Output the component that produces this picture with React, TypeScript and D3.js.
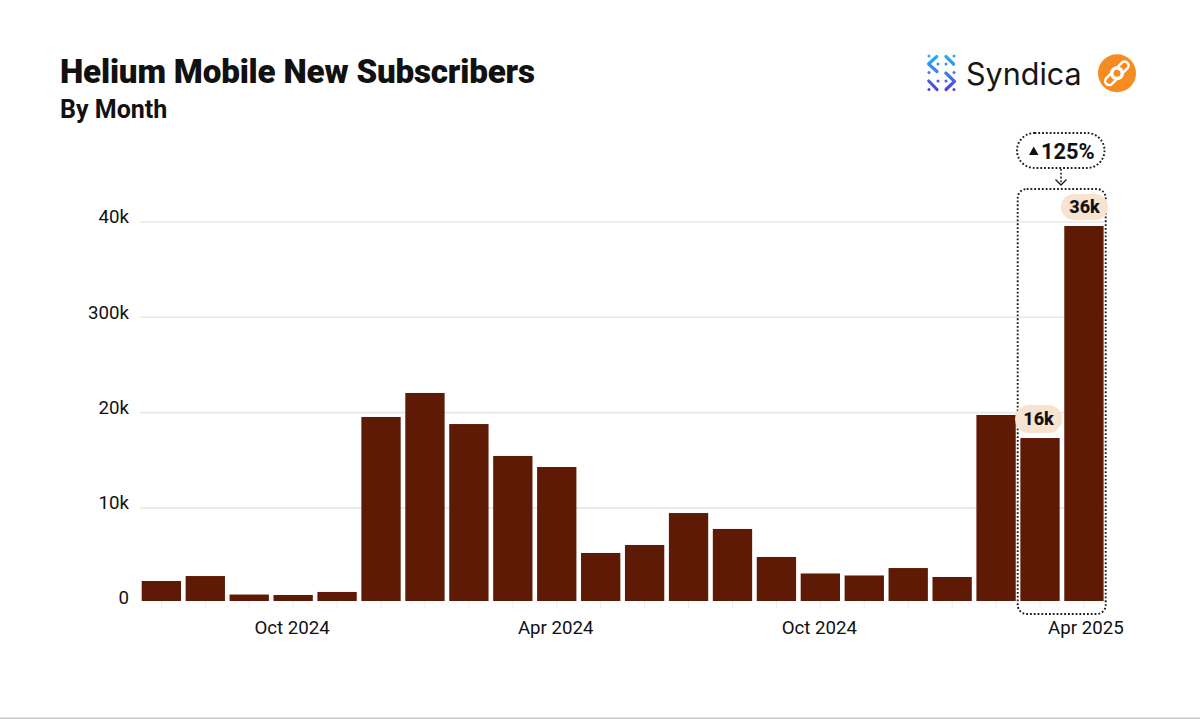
import React from "react";
import * as d3 from "d3";

const months = ["Jul 2024","Aug 2024","Sep 2024","Oct 2024","Nov 2024","Dec 2024","Jan 2024","Feb 2024","Mar 2024","Apr 2024","May 2024","Jun 2024","Jul 2024 ","Aug 2024 ","Sep 2024 ","Oct 2024 ","Nov 2024 ","Dec 2024 ","Jan 2025","Feb 2025","Mar 2025","Apr 2025"];
const subscribers = [2330,2850,910,860,1180,19540,22060,18800,15450,14290,5270,6110,9460,7790,4850,3120,2910,3690,2750,19750,17330,39580];
const yTicks = [0,10000,20000,30000,40000];
const yTickLabels = ["0","10k","20k","300k","40k"];
const xLabelled = ["Oct 2024","Apr 2024","Oct 2024 ","Apr 2025"];
const callouts = [{month:"Mar 2025",label:"16k"},{month:"Apr 2025",label:"36k"}];

const INK = "#111";
const BAR = "#5f1a05";
const FONT = "Roboto, sans-serif";
const BASE = 601;

export default function App() {
  const x = d3.scaleBand<string>().domain(months).range([141.7,1103.6]).paddingInner(0.105).paddingOuter(0);
  const y = d3.scaleLinear().domain([0,40000]).range([603.2,222]);
  const bw = x.bandwidth();
  const cx = (m:string)=> (x(m) as number)+bw/2;
  const dots = "1.8 2";
  const grad = "syn";
  const logoDots = [[929,56],[954,56],[938,64],[946,64],[929,72.5],[954,72.5],[938,81],[946,81],[929,89.5],[954,89.5]];
  return (
    <svg width={1200} height={719} viewBox="0 0 1200 719" style={{position:"absolute",left:0,top:0,background:"#fff",fontFamily:FONT}}>
      <defs>
        <linearGradient id={grad} gradientUnits="userSpaceOnUse" x1="0" y1="54" x2="0" y2="92">
          <stop offset="0" stopColor="#22b5ee"/><stop offset="0.5" stopColor="#3c7cea"/><stop offset="1" stopColor="#5a35dc"/>
        </linearGradient>
      </defs>
      <text x={60} y={83} fontSize={33.2} fontWeight={900} fill={INK} style={{letterSpacing:"-0.2px"}}>Helium Mobile New Subscribers</text>
      <text x={60} y={118} fontSize={25} fontWeight={700} fill={INK}>By Month</text>

      {yTicks.slice(1).map(t=>(
        <line key={t} x1={140} x2={1104} y1={y(t)} y2={y(t)} stroke="#e8e8e8" strokeWidth={1.6}/>
      ))}
      {months.map(m=>(
        <line key={m} x1={cx(m)} x2={cx(m)} y1={BASE} y2={608} stroke="#ececec" strokeWidth={1}/>
      ))}
      {yTicks.map((t,i)=>(
        <text key={t} x={129} y={y(t)+(t===0?1:1.2)} textAnchor="end" fontSize={18.7} fill={INK}>{yTickLabels[i]}</text>
      ))}
      {months.map((m,i)=>(
        <rect key={m} x={x(m)} y={y(subscribers[i])} width={bw} height={BASE-y(subscribers[i])} fill={BAR}/>
      ))}
      {xLabelled.map(m=>(
        <text key={m} x={cx(m)+(m==="Apr 2025"?2:-1)} y={633.5} textAnchor="middle" fontSize={18.7} fill={INK}>{m.trim()}</text>
      ))}

      <rect x={1017.7} y={189} width={88} height={425} rx={9} fill="none" stroke="#1c1c1c" strokeWidth={1.9} strokeDasharray={dots}/>
      <rect x={1017} y={133} width={87.5} height={35} rx={17.5} fill="#fff" stroke="#1c1c1c" strokeWidth={1.9} strokeDasharray={dots}/>
      <line x1={1061} x2={1061} y1={169} y2={184} stroke="#1c1c1c" strokeWidth={1.6} strokeDasharray={dots}/>
      <path d="M1055.5 179.5 L1061 185 L1066.5 179.5" fill="none" stroke="#1c1c1c" strokeWidth={1.4}/>
      <path d="M1029 155 L1038.5 155 L1033.7 146.5 Z" fill={INK}/>
      <text x={1041} y={158.5} fontSize={21.8} fontWeight={700} fill={INK}>125%</text>

      {callouts.map(c=>{
        const isApr = c.month==="Apr 2025";
        const lx = isApr ? 1084.5 : 1038.5, ly = isApr ? 207 : 419;
        const h = isApr ? 26 : 28;
        return (
          <g key={c.month}>
            <rect x={lx-23.5} y={ly-h/2} width={47} height={h} rx={h/2} fill="#f8e2d0"/>
            <text x={lx} y={ly+6.3} textAnchor="middle" fontSize={18} fontWeight={800} fill={INK}>{c.label}</text>
          </g>
        );
      })}

      <g fill={`url(#${grad})`}>
        {logoDots.map(([a,b],i)=>(<circle key={i} cx={a} cy={b} r={1.5}/>))}
      </g>
      <g fill="none" stroke={`url(#${grad})`} strokeWidth={3.2} strokeLinecap="round" strokeLinejoin="round">
        <path d="M936.7 56.5 L928.6 64 L937 71.5"/>
        <path d="M946 56.5 L953.5 64"/>
        <path d="M945.8 73 L954.5 81.3 L946 89.5"/>
        <path d="M928.8 81 L937 89.5"/>
      </g>
      <text x={966} y={85} fontSize={30.5} fill="#161616" fontFamily="Inter, sans-serif" fontWeight={400}>Syndica</text>
      <circle cx={1117} cy={73.3} r={19} fill="#f68b1f"/>
      <path d="M1109.2 81 L1124.6 65.6" stroke="#fff" strokeWidth={10.5} strokeLinecap="round"/>
      <path d="M1109.2 81 L1124.6 65.6" stroke="#f68b1f" strokeWidth={5.5} strokeLinecap="round"/>
      <circle cx={1117} cy={73.3} r={7} fill="#fff"/>
      <circle cx={1117} cy={73.3} r={3.5} fill="#f68b1f"/>

      <rect x={0} y={717.5} width={1200} height={1.5} fill="#c9c9c9"/>
    </svg>
  );
}
